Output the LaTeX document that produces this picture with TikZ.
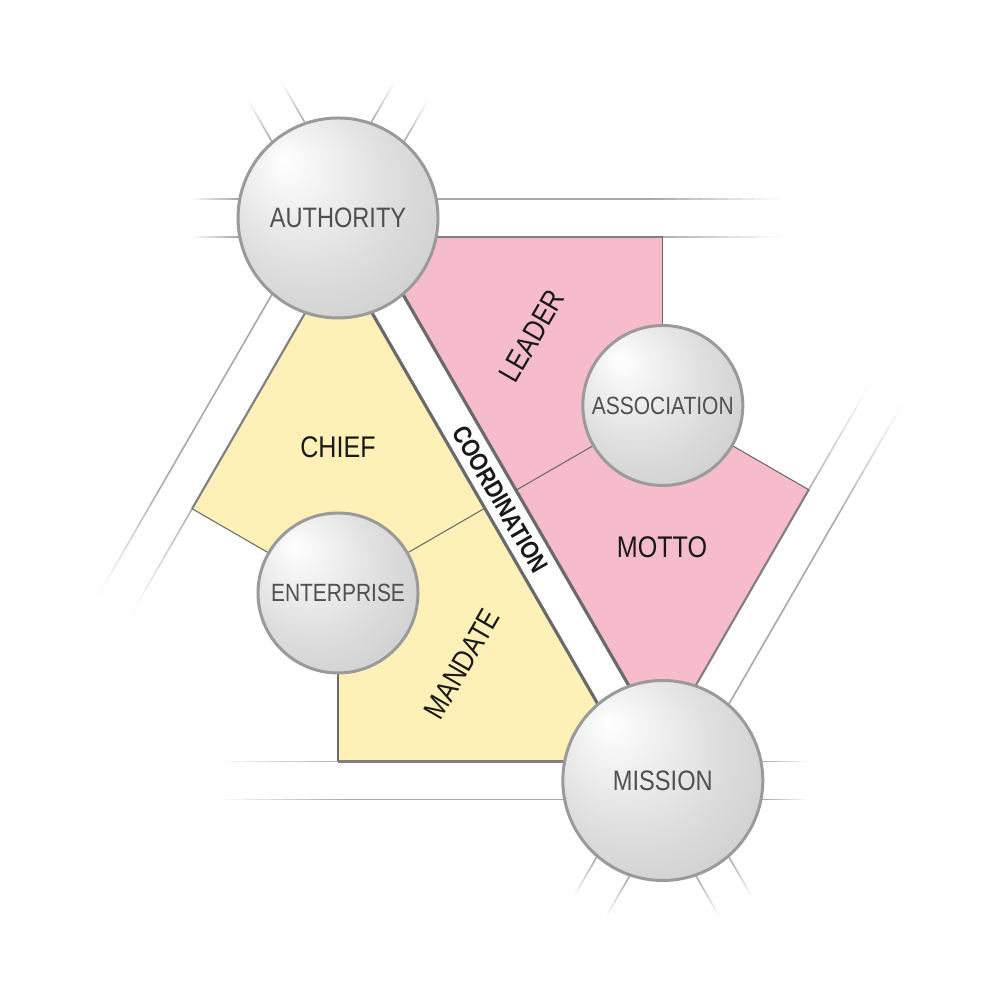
\documentclass[tikz,border=0pt]{standalone}
\usepackage{fontspec}
\setmainfont{Liberation Sans}[FakeStretch=0.84]
\usetikzlibrary{calc}

\definecolor{pinkfill}{HTML}{F7BCCB}
\definecolor{yellowfill}{HTML}{FEF1B8}
\definecolor{edgegray}{HTML}{6A6A6A}
\definecolor{roadgray}{HTML}{A8A8A8}
\definecolor{ringgray}{HTML}{9A9A9A}
\definecolor{labelgray}{HTML}{505050}
\definecolor{orbmid}{HTML}{DEDEDE}
\definecolor{orbedge}{HTML}{BDBDBD}
\pgfdeclareradialshading{orb}{\pgfpoint{-14bp}{15bp}}{color(0bp)=(white); color(22bp)=(orbmid); color(50bp)=(orbedge)}

\tikzset{
    road/.style={draw=roadgray, line width=0.45pt},
    roadedge/.style={draw=edgegray!85, line width=0.6pt},
    divider/.style={draw=edgegray, line width=0.3pt},
    stripedge/.style={draw=edgegray, line width=0.9pt},
    bigorb/.style={circle, inner sep=0pt, minimum size=2cm, draw=ringgray, line width=0.85pt, shading=orb, text=labelgray, font=\fontsize{8}{9}\selectfont},
    smallorb/.style={bigorb, minimum size=1.6cm, font=\fontsize{7.1}{8}\selectfont},
    zonelabel/.style={inner sep=0pt, text=black!90, font=\fontsize{8.5}{10}\selectfont}
}

\begin{document}
\begin{tikzpicture}
    \useasboundingbox (0,0) rectangle (10,10);

    \coordinate (A) at (3.38,7.82);
    \coordinate (M) at (6.628,2.195);
    \coordinate (S) at (6.628,5.945);
    \coordinate (E) at (3.38,4.07);

    \coordinate (p1) at (3.698,7.63);
    \coordinate (p2) at (6.628,7.63);
    \coordinate (p4) at (8.087,5.1025);
    \coordinate (p5) at (6.622,2.565);
    \coordinate (d1) at (5.160,5.0975);
    \coordinate (q1) at (6.310,2.385);
    \coordinate (q2) at (3.380,2.385);
    \coordinate (q4) at (1.921,4.9125);
    \coordinate (q5) at (3.386,7.45);
    \coordinate (d2) at (4.848,4.9175);

    \foreach \c/\ang/\len/\fade in {A/0/4.42/1.3, A/60/1.47/0.47, A/120/1.47/0.47, A/180/1.47/0.47, A/240/4.45/1.3,
                                    M/0/1.47/0.47, M/60/4.45/1.3, M/180/4.45/1.3, M/240/1.47/0.47, M/300/1.47/0.47} {
        \begin{scope}[shift={(\c)}, rotate=\ang]
            \foreach \o in {-0.19,0.19} {
                \pgfmathsetmacro\xs{\len-\fade}
                \draw[road] (0.9,\o) -- (\xs,\o);
                \foreach \k in {0,...,9} {
                    \pgfmathsetmacro\xa{\xs+\fade*\k/10}
                    \pgfmathsetmacro\xb{\xs+\fade*(\k+1)/10+0.005}
                    \pgfmathtruncatemacro\pc{95-10*\k}
                    \draw[road, draw=roadgray!\pc] (\xa,\o) -- (\xb,\o);
                }
            }
        \end{scope}
    }

    \fill[pinkfill] (p1) -- (p2) -- (S) -- (p4) -- (p5) -- cycle;
    \fill[yellowfill] (q1) -- (q2) -- (E) -- (q4) -- (q5) -- cycle;

    \draw[roadedge] (p1) -- (p2);
    \draw[roadedge] (p4) -- (p5);
    \draw[roadedge] (q1) -- (q2);
    \draw[roadedge] (q4) -- (q5);
    \draw[divider] (p2) -- (S);
    \draw[divider] (S) -- (p4);
    \draw[divider] (S) -- (d1);
    \draw[divider] (q2) -- (E);
    \draw[divider] (E) -- (q4);
    \draw[divider] (E) -- (d2);
    \draw[stripedge] (p1) -- (p5);
    \draw[stripedge] (q5) -- (q1);

    \node[bigorb] (authority) at (A) {AUTHORITY};
    \node[bigorb] (mission) at (M) {MISSION};
    \node[smallorb] (association) at (S) {ASSOCIATION};
    \node[smallorb] (enterprise) at (E) {ENTERPRISE};

    \node[zonelabel] (chief) at (3.38,5.525) {CHIEF};
    \node[zonelabel, rotate=60] (leader) at (5.32,6.64) {LEADER};
    \node[zonelabel] (motto) at (6.62,4.525) {MOTTO};
    \node[zonelabel, rotate=60] (mandate) at (4.62,3.36) {MANDATE};
    \node[zonelabel, rotate=-60, font=\fontsize{7.2}{8}\selectfont\bfseries] (coordination) at (5.004,5.0075) {COORDINATION};
\end{tikzpicture}
\end{document}
